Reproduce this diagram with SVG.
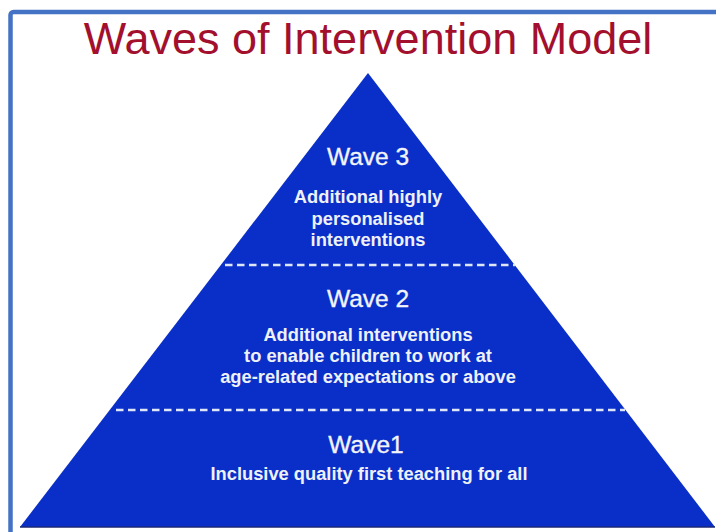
<svg xmlns="http://www.w3.org/2000/svg" width="716" height="532" viewBox="0 0 716 532">
  <style>
    .title { font-family: "Liberation Sans", Arial, sans-serif; font-size: 45px; fill: #a3102e; text-anchor: middle; }
    .wave { font-family: "Liberation Sans", Arial, sans-serif; font-size: 24.5px; fill: #f2f4fa; stroke: #f2f4fa; stroke-width: 0.35; text-anchor: middle; }
    .desc { font-family: "Liberation Sans", Arial, sans-serif; font-size: 18.3px; font-weight: bold; fill: #eef1f8; text-anchor: middle; }
    .sep { stroke: #dfe6f5; stroke-width: 2.6; stroke-dasharray: 7.5 4.5; fill: none; }
  </style>
  <rect x="0" y="0" width="716" height="532" fill="#ffffff"/>
  <rect id="frame" x="10.5" y="12" width="730" height="540" rx="3" fill="none" stroke="#4472c4" stroke-width="4.5"/>
  <text class="title" x="368" y="54">Waves of Intervention Model</text>
  <g id="pyramid">
    <polygon points="368,73 20,527 715,527" fill="#0a2fc8"/>
    <line x1="20" y1="527" x2="715" y2="527" stroke="#1b2a78" stroke-width="1.5"/>
  </g>
  <g id="separators">
    <line class="sep" x1="225" y1="265" x2="515" y2="265"/>
    <line class="sep" x1="116" y1="410" x2="625" y2="410"/>
  </g>
  <g id="wave3">
    <text class="wave" x="368" y="165">Wave 3</text>
    <text class="desc" x="368" y="203">Additional highly</text>
    <text class="desc" x="368" y="224.5">personalised</text>
    <text class="desc" x="368" y="245.5">interventions</text>
  </g>
  <g id="wave2">
    <text class="wave" x="368" y="307">Wave 2</text>
    <text class="desc" x="368" y="341">Additional interventions</text>
    <text class="desc" x="368" y="362">to enable children to work at</text>
    <text class="desc" x="368" y="383">age-related expectations or above</text>
  </g>
  <g id="wave1">
    <text class="wave" x="366" y="453">Wave1</text>
    <text class="desc" x="369" y="480">Inclusive quality first teaching for all</text>
  </g>
</svg>
